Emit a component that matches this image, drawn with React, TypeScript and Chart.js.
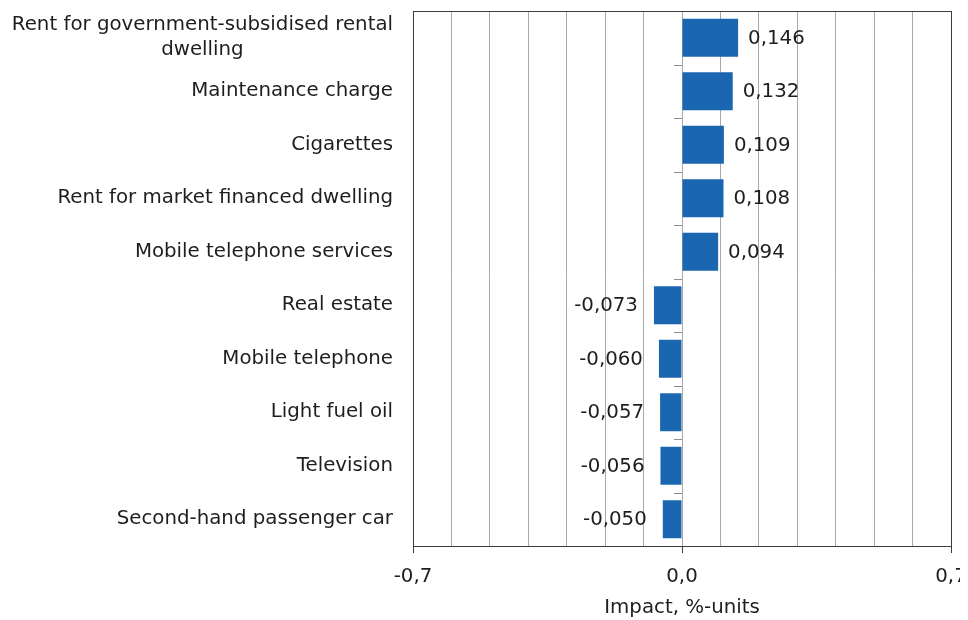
import React, { useEffect, useRef } from "react";
import { Chart, registerables } from "chart.js";

Chart.register(...registerables);

const categories: (string | string[])[] = [
  ["Rent for government-subsidised rental", "dwelling"],
  "Maintenance charge",
  "Cigarettes",
  "Rent for market financed dwelling",
  "Mobile telephone services",
  "Real estate",
  "Mobile telephone",
  "Light fuel oil",
  "Television",
  "Second-hand passenger car",
];
const values = [0.146, 0.132, 0.109, 0.108, 0.094, -0.073, -0.06, -0.057, -0.056, -0.05];
const labeledTicks = [-0.7, 0, 0.7];
const axisTitle = "Impact, %-units";

const FONT = "DejaVu Sans";
const FONT_SIZE = 19.8;
const TEXT_COLOR = "#1e1e1e";

const fmt = (v: number, d: number) => v.toFixed(d).replace(".", ",");
const isLabeled = (v: number) => labeledTicks.some((t) => Math.abs(t - v) < 1e-6);

const customPlugin = {
  id: "custom",
  afterDatasetsDraw(chart: any) {
    const { ctx, chartArea } = chart;
    const x0 = chart.scales.x.getPixelForValue(0);
    const yScale = chart.scales.y;
    ctx.save();
    // small category tick marks at zero line
    ctx.strokeStyle = "#8c8c8c";
    ctx.lineWidth = 1;
    const n = categories.length;
    const step = (chartArea.bottom - chartArea.top) / n;
    for (let i = 0; i <= n; i++) {
      const y = Math.round(chartArea.top + step * i) + 0.5;
      ctx.beginPath();
      ctx.moveTo(x0 - 8, y);
      ctx.lineTo(x0, y);
      ctx.stroke();
    }
    // border
    ctx.strokeStyle = "#3c3c3c";
    ctx.strokeRect(
      Math.round(chartArea.left) + 0.5,
      Math.round(chartArea.top) + 0.5,
      Math.round(chartArea.right - chartArea.left),
      Math.round(chartArea.bottom - chartArea.top)
    );
    // data labels
    ctx.font = `${FONT_SIZE}px "${FONT}"`;
    ctx.fillStyle = TEXT_COLOR;
    ctx.textBaseline = "middle";
    const meta = chart.getDatasetMeta(0);
    meta.data.forEach((el: any, i: number) => {
      const v = values[i];
      const txt = fmt(v, 3);
      if (v >= 0) {
        ctx.textAlign = "left";
        ctx.fillText(txt, el.x + 10, el.y + 1);
      } else {
        ctx.textAlign = "right";
        ctx.fillText(txt, el.x - 16, el.y + 1);
      }
    });
    // category labels
    ctx.textAlign = "right";
    categories.forEach((c, i) => {
      const yc = yScale.getPixelForValue(i);
      const xr = chartArea.left - 20;
      if (Array.isArray(c)) {
        const lh = 25;
        const w0 = ctx.measureText(c[0]).width;
        const center = xr - w0 / 2;
        c.forEach((line, k) => {
          ctx.textAlign = "center";
          ctx.fillText(line, center, yc + (k - (c.length - 1) / 2) * lh);
        });
        ctx.textAlign = "right";
      } else {
        ctx.fillText(c, xr, yc);
      }
    });
    ctx.restore();
  },
};

export default function App() {
  const ref = useRef<HTMLCanvasElement | null>(null);
  useEffect(() => {
    document.documentElement.style.overflow = "hidden";
    if (!ref.current) return;
    const chart = new Chart(ref.current, {
      type: "bar",
      data: {
        labels: categories.map((c) => (Array.isArray(c) ? c.join(" ") : c)),
        datasets: [
          {
            data: values,
            backgroundColor: "#1a66b0",
            borderWidth: 0,
            barPercentage: 0.71,
            categoryPercentage: 1,
          },
        ],
      },
      options: {
        indexAxis: "y",
        animation: false,
        responsive: false,
        maintainAspectRatio: false,
        layout: { padding: { left: 0, right: 17, top: 3, bottom: 0 } },
        plugins: {
          legend: { display: false },
          tooltip: { enabled: false },
        },
        scales: {
          x: {
            type: "linear",
            min: -0.7,
            max: 0.7,
            ticks: {
              stepSize: 0.1,
              autoSkip: false,
              maxRotation: 0,
              padding: 12,
              color: TEXT_COLOR,
              font: { family: FONT, size: FONT_SIZE },
              callback: (v: any) => (isLabeled(Number(v)) ? fmt(Number(v), 1) : ""),
            },
            grid: {
              color: (c: any) =>
                c.tick && (Math.abs(c.tick.value - 0.7) < 1e-6 || Math.abs(c.tick.value + 0.7) < 1e-6)
                  ? "#3c3c3c"
                  : "#a8a8a8",
              lineWidth: 1,
              drawTicks: true,
              tickLength: 7,
              tickColor: (c: any) => (c.tick && isLabeled(c.tick.value) ? "#3c3c3c" : "rgba(0,0,0,0)"),
            },
            border: { display: true, color: "#3c3c3c" },
            title: {
              display: true,
              text: axisTitle,
              color: TEXT_COLOR,
              font: { family: FONT, size: FONT_SIZE },
              padding: { top: 4, bottom: 0 },
            },
            afterFit: (s: any) => {
              s.height = 74;
              s.paddingLeft = 0;
              s.paddingRight = 0;
            },
          },
          y: {
            type: "category",
            ticks: { display: false },
            grid: { display: false },
            border: { display: false },
            afterFit: (s: any) => {
              s.width = 405;
            },
          },
        },
      },
      plugins: [customPlugin],
    });
    return () => chart.destroy();
  }, []);
  return (
    <div style={{ width: 960, height: 612, overflow: "hidden" }}>
      <canvas ref={ref} width={960} height={612} style={{ display: "block" }} />
    </div>
  );
}
